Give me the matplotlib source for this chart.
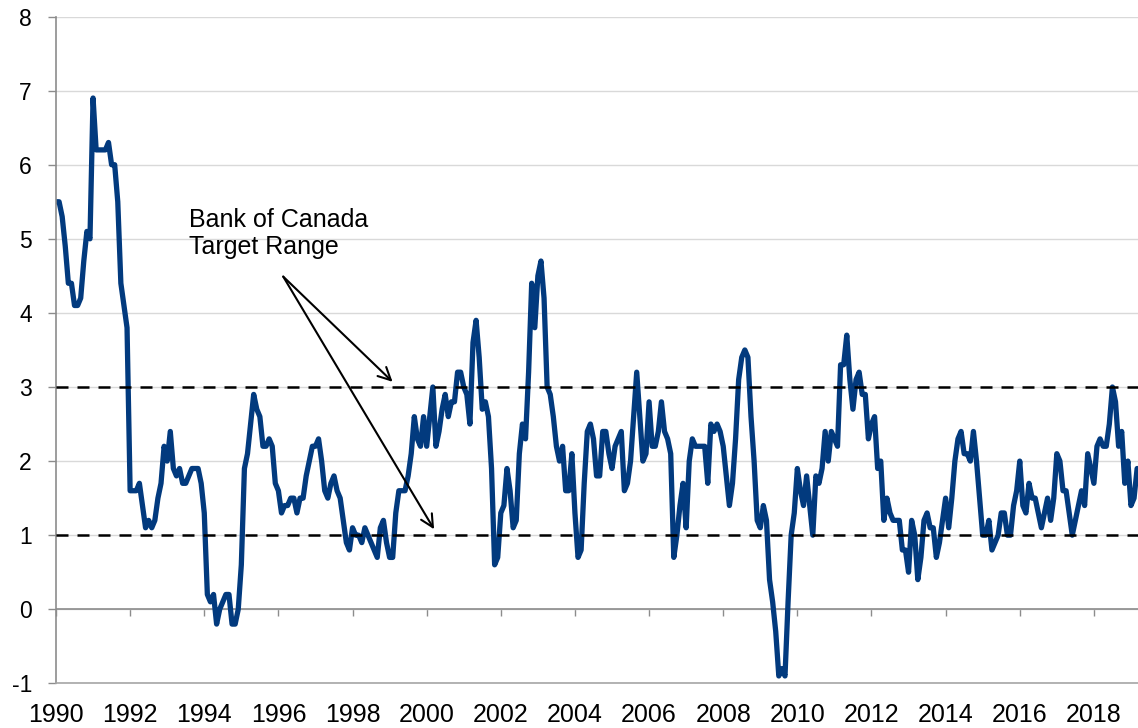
import numpy as np
import matplotlib.pyplot as plt

plt.rcParams["font.family"] = ["Liberation Sans", "DejaVu Sans"]
plt.rcParams["axes.unicode_minus"] = False

# monthly CPI inflation, y/y %, Jan 1990 - Mar 2019
start_year = 1990
cpi_yoy = [
    5.5, 5.5, 5.3, 4.9, 4.4, 4.4, 4.1, 4.1, 4.2, 4.7, 5.1, 5.0,  # 1990
    6.9, 6.2, 6.2, 6.2, 6.2, 6.3, 6.0, 6.0, 5.5, 4.4, 4.1, 3.8,  # 1991
    1.6, 1.6, 1.6, 1.7, 1.4, 1.1, 1.2, 1.1, 1.2, 1.5, 1.7, 2.2,  # 1992
    2.0, 2.4, 1.9, 1.8, 1.9, 1.7, 1.7, 1.8, 1.9, 1.9, 1.9, 1.7,  # 1993
    1.3, 0.2, 0.1, 0.2, -0.2, 0.0, 0.1, 0.2, 0.2, -0.2, -0.2, 0.0,  # 1994
    0.6, 1.9, 2.1, 2.5, 2.9, 2.7, 2.6, 2.2, 2.2, 2.3, 2.2, 1.7,  # 1995
    1.6, 1.3, 1.4, 1.4, 1.5, 1.5, 1.3, 1.5, 1.5, 1.8, 2.0, 2.2,  # 1996
    2.2, 2.3, 2.0, 1.6, 1.5, 1.7, 1.8, 1.6, 1.5, 1.2, 0.9, 0.8,  # 1997
    1.1, 1.0, 1.0, 0.9, 1.1, 1.0, 0.9, 0.8, 0.7, 1.1, 1.2, 0.9,  # 1998
    0.7, 0.7, 1.3, 1.6, 1.6, 1.6, 1.8, 2.1, 2.6, 2.3, 2.2, 2.6,  # 1999
    2.2, 2.6, 3.0, 2.2, 2.4, 2.7, 2.9, 2.6, 2.8, 2.8, 3.2, 3.2,  # 2000
    3.0, 2.9, 2.5, 3.6, 3.9, 3.4, 2.7, 2.8, 2.6, 1.9, 0.6, 0.7,  # 2001
    1.3, 1.4, 1.9, 1.6, 1.1, 1.2, 2.1, 2.5, 2.3, 3.2, 4.4, 3.8,  # 2002
    4.5, 4.7, 4.2, 3.0, 2.9, 2.6, 2.2, 2.0, 2.2, 1.6, 1.6, 2.1,  # 2003
    1.3, 0.7, 0.8, 1.7, 2.4, 2.5, 2.3, 1.8, 1.8, 2.4, 2.4, 2.1,  # 2004
    1.9, 2.2, 2.3, 2.4, 1.6, 1.7, 2.0, 2.6, 3.2, 2.6, 2.0, 2.1,  # 2005
    2.8, 2.2, 2.2, 2.4, 2.8, 2.4, 2.3, 2.1, 0.7, 1.0, 1.4, 1.7,  # 2006
    1.1, 2.0, 2.3, 2.2, 2.2, 2.2, 2.2, 1.7, 2.5, 2.4, 2.5, 2.4,  # 2007
    2.2, 1.8, 1.4, 1.7, 2.3, 3.1, 3.4, 3.5, 3.4, 2.6, 2.0, 1.2,  # 2008
    1.1, 1.4, 1.2, 0.4, 0.1, -0.3, -0.9, -0.8, -0.9, 0.1, 1.0, 1.3,  # 2009
    1.9, 1.6, 1.4, 1.8, 1.4, 1.0, 1.8, 1.7, 1.9, 2.4, 2.0, 2.4,  # 2010
    2.3, 2.2, 3.3, 3.3, 3.7, 3.1, 2.7, 3.1, 3.2, 2.9, 2.9, 2.3,  # 2011
    2.5, 2.6, 1.9, 2.0, 1.2, 1.5, 1.3, 1.2, 1.2, 1.2, 0.8, 0.8,  # 2012
    0.5, 1.2, 1.0, 0.4, 0.7, 1.2, 1.3, 1.1, 1.1, 0.7, 0.9, 1.2,  # 2013
    1.5, 1.1, 1.5, 2.0, 2.3, 2.4, 2.1, 2.1, 2.0, 2.4, 2.0, 1.5,  # 2014
    1.0, 1.0, 1.2, 0.8, 0.9, 1.0, 1.3, 1.3, 1.0, 1.0, 1.4, 1.6,  # 2015
    2.0, 1.4, 1.3, 1.7, 1.5, 1.5, 1.3, 1.1, 1.3, 1.5, 1.2, 1.5,  # 2016
    2.1, 2.0, 1.6, 1.6, 1.3, 1.0, 1.2, 1.4, 1.6, 1.4, 2.1, 1.9,  # 2017
    1.7, 2.2, 2.3, 2.2, 2.2, 2.5, 3.0, 2.8, 2.2, 2.4, 1.7, 2.0,  # 2018
    1.4, 1.5, 1.9,  # 2019
]

target_band = [1, 3]
tick_years = list(range(1990, 2019, 2))
y_ticks = list(range(-1, 9))

note_text = "Bank of Canada\nTarget Range"
arrow_start = (1996.13, 4.49)
arrow_tips = [(1999.08, 3.07), (2000.20, 1.08)]

line_color = "#023a7e"
axis_gray = "#8c8c8c"

dates = start_year + np.arange(len(cpi_yoy)) / 12

fig = plt.figure(figsize=(11.38, 7.28), dpi=100)
ax = fig.add_axes([0.0492, 0.0613, 0.9508, 0.916])

ax.plot(dates, cpi_yoy, color=line_color, lw=3.8, solid_joinstyle="round",
        solid_capstyle="round", zorder=2)
for lvl in target_band:
    ax.axhline(lvl, color="black", lw=1.8, ls=(0, (4.8, 3.6)), zorder=3)
ax.axhline(0, color=axis_gray, lw=1.2, zorder=1.5)

ax.set_xlim(1990, 2019.19)
ax.set_ylim(-1, 8)
ax.set_yticks(y_ticks)
ax.set_yticklabels([str(v) for v in y_ticks])
ax.yaxis.grid(True, color="#d9d9d9", lw=1.0)
ax.set_axisbelow(True)

ax.set_xticks(tick_years)
ax.set_xticklabels([str(y) for y in tick_years])
ax.tick_params(axis="x", length=0, pad=14, labelsize=18)
ax.tick_params(axis="y", direction="out", length=5.8, width=1.0, color=axis_gray,
               pad=11.5, labelsize=16.5)

for s in ["top", "right"]:
    ax.spines[s].set_visible(False)
ax.spines["left"].set_color(axis_gray)
ax.spines["left"].set_linewidth(1.2)
ax.spines["bottom"].set_color("#a6a6a6")
ax.spines["bottom"].set_linewidth(1.2)

# tick marks on the zero line
sec = ax.secondary_xaxis(1 / 9)
sec.set_xticks(tick_years)
sec.tick_params(axis="x", direction="out", length=5.2, width=1.0, color=axis_gray,
                labelbottom=False)
sec.spines["bottom"].set_visible(False)

ax.text(1993.59, 5.42, note_text, fontsize=18, ha="left", va="top", linespacing=1.2)
for tip in arrow_tips:
    ax.annotate("", xy=tip, xytext=arrow_start,
                arrowprops=dict(arrowstyle="->,head_length=0.6,head_width=0.3",
                                lw=1.5, color="black", shrinkA=0, shrinkB=0,
                                mutation_scale=15))

fig.savefig("out.png", dpi=100)
